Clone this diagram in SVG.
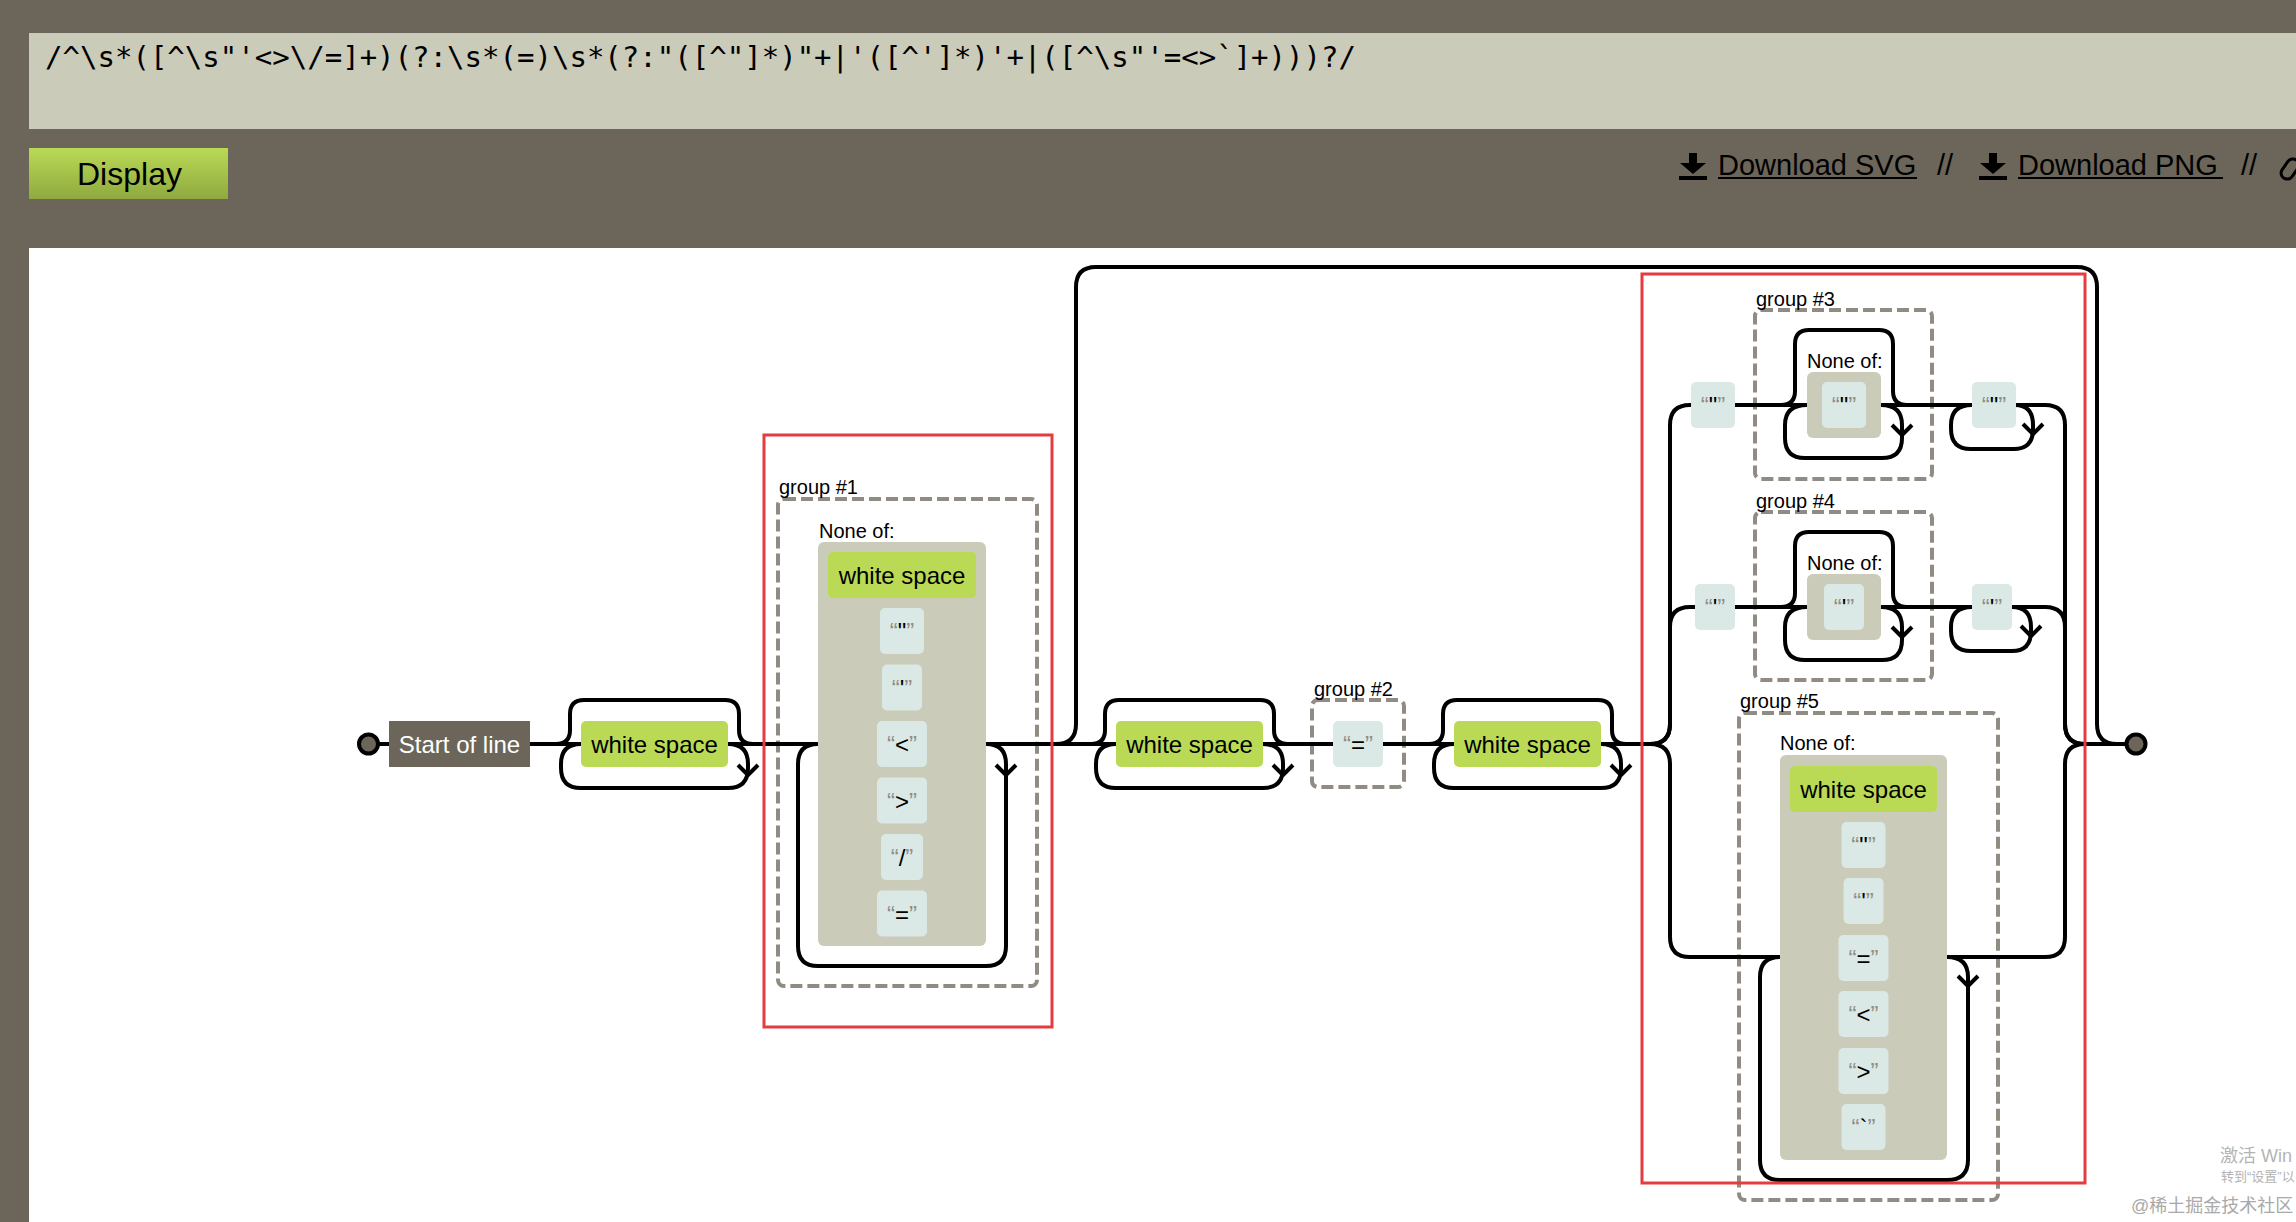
<svg xmlns="http://www.w3.org/2000/svg" width="2296" height="1222" viewBox="0 0 2296 1222">
<defs>
  <linearGradient id="btnGrad" x1="0" y1="0" x2="0" y2="1">
    <stop offset="0" stop-color="#bada55"/>
    <stop offset="1" stop-color="#8fa93f"/>
  </linearGradient>
  <path id="chev" d="M-10,-10 L0,0 L10,-10"/>
  <g id="dl">
    <rect x="-4" y="0" width="8" height="12" fill="#000"/>
    <path d="M-13,10 H13 L0,21 Z" fill="#000"/>
    <rect x="-14" y="23" width="28" height="4" fill="#000"/>
  </g>
</defs>
<style>
  .sans{font-family:"Liberation Sans",Arial,sans-serif}
  .rail{fill:none;stroke:#000;stroke-width:4;stroke-linejoin:round}
  .esc{fill:#bada55}
  .lit{fill:#dae9e5}
  .cls{fill:#cbcbba}
  .anc{fill:#6b6659}
  .sub{fill:none;stroke:#908c83;stroke-width:4;stroke-dasharray:12,5}
  .red{fill:none;stroke:#e43c3f;stroke-width:3}
  .t{font-family:"Liberation Sans",Arial,sans-serif;font-size:24px;fill:#000;text-anchor:middle}
  .tw{fill:#fff}
  .lbl{font-family:"Liberation Sans",Arial,sans-serif;font-size:20px;fill:#000}
  .q{fill:#908c83}
  .term{fill:#6b6659;stroke:#000;stroke-width:4}
  .link{font-family:"Liberation Sans",Arial,sans-serif;font-size:29px;fill:#000}
</style>

<!-- page chrome -->
<rect x="0" y="0" width="2296" height="1222" fill="#6b6659"/>
<rect x="29" y="33" width="2280" height="96" fill="#cbcbba"/>
<text x="45" y="67" font-family="DejaVu Sans Mono, Liberation Mono, monospace" font-size="29" textLength="1311" lengthAdjust="spacingAndGlyphs" fill="#000">/^\s*([^\s"'&lt;&gt;\/=]+)(?:\s*(=)\s*(?:"([^"]*)"+|'([^']*)'+|([^\s"'=&lt;&gt;`]+)))?/</text>
<g id="display-button">
  <rect x="29" y="148" width="199" height="51" fill="url(#btnGrad)"/>
  <text x="77" y="185" class="sans" font-size="32" fill="#000">Display</text>
</g>
<g id="links">
  <use href="#dl" x="1693" y="153"/>
  <text x="1718" y="175" class="link">Download SVG</text>
  <rect x="1718" y="177" width="199" height="2" fill="#000"/>
  <text x="1937" y="175" class="link">//</text>
  <use href="#dl" x="1993" y="153"/>
  <text x="2018" y="175" class="link">Download PNG</text>
  <rect x="2018" y="177" width="205" height="2" fill="#000"/>
  <text x="2241" y="175" class="link">//</text>
  <rect x="2284" y="158" width="12" height="22" rx="6" fill="none" stroke="#000" stroke-width="3" transform="rotate(35 2290 169)"/>
</g>
<rect x="29" y="248" width="2280" height="980" fill="#fff"/>

<!-- group frames -->
<g id="group1-frame">
  <rect class="sub" x="778" y="499" width="259" height="487" rx="6"/>
  <text class="lbl" x="779" y="494">group #1</text>
</g>
<g id="group2-frame">
  <rect class="sub" x="1312" y="700" width="92" height="87" rx="6"/>
  <text class="lbl" x="1314" y="696">group #2</text>
</g>
<g id="group3-frame">
  <rect class="sub" x="1755" y="310" width="177" height="169" rx="6"/>
  <text class="lbl" x="1756" y="306">group #3</text>
</g>
<g id="group4-frame">
  <rect class="sub" x="1755" y="512" width="177" height="168" rx="6"/>
  <text class="lbl" x="1756" y="508">group #4</text>
</g>
<g id="group5-frame">
  <rect class="sub" x="1739" y="713" width="259" height="487" rx="6"/>
  <text class="lbl" x="1740" y="708">group #5</text>
</g>

<!-- connectors -->
<g id="connectors" class="rail">
  <path d="M368,744 H1650"/>
  <path d="M2085,744 H2136"/>
  <!-- box1 skip + loop -->
  <path d="M556,744 q14,0 14,-14 v-16 q0,-14 14,-14 H725 q14,0 14,14 v16 q0,14 14,14"/>
  <path d="M581,744 q-20,0 -20,20 v4 q0,20 20,20 H728 q20,0 20,-20 v-4 q0,-20 -20,-20"/>
  <use href="#chev" x="748" y="775"/>
  <!-- group1 loop -->
  <path d="M818,744 q-20,0 -20,20 V946 q0,20 20,20 H986 q20,0 20,-20 V764 q0,-20 -20,-20"/>
  <use href="#chev" x="1006" y="775"/>
  <!-- big optional skip -->
  <path d="M1056,744 q20,0 20,-20 V287 q0,-20 20,-20 H2077 q20,0 20,20 V724 q0,20 20,20"/>
  <!-- box2 skip + loop -->
  <path d="M1091,744 q14,0 14,-14 v-16 q0,-14 14,-14 H1260 q14,0 14,14 v16 q0,14 14,14"/>
  <path d="M1116,744 q-20,0 -20,20 v4 q0,20 20,20 H1263 q20,0 20,-20 v-4 q0,-20 -20,-20"/>
  <use href="#chev" x="1283" y="775"/>
  <!-- box3 skip + loop -->
  <path d="M1429,744 q14,0 14,-14 v-16 q0,-14 14,-14 H1598 q14,0 14,14 v16 q0,14 14,14"/>
  <path d="M1454,744 q-20,0 -20,20 v4 q0,20 20,20 H1601 q20,0 20,-20 v-4 q0,-20 -20,-20"/>
  <use href="#chev" x="1621" y="775"/>
  <!-- alternation branches -->
  <path d="M1650,744 q20,0 20,-20 V425 q0,-20 20,-20 H2045 q20,0 20,20 V724 q0,20 20,20"/>
  <path d="M1650,744 q20,0 20,-20 V627 q0,-20 20,-20 H2045 q20,0 20,20 V724 q0,20 20,20"/>
  <path d="M1650,744 q20,0 20,20 V937 q0,20 20,20 H2045 q20,0 20,-20 V764 q0,-20 20,-20"/>
  <!-- group3 skip + loop -->
  <path d="M1781,405 q14,0 14,-14 V344 q0,-14 14,-14 H1879 q14,0 14,14 V391 q0,14 14,14"/>
  <path d="M1807,405 q-22,0 -22,20 V438 q0,20 20,20 H1882 q20,0 20,-20 V425 q0,-20 -21,-20"/>
  <use href="#chev" x="1902" y="435"/>
  <!-- branch1 closing quote loop -->
  <path d="M1972,405 q-21,0 -21,20 v4 q0,20 20,20 H2014 q19,0 19,-20 v-4 q0,-20 -18,-20"/>
  <use href="#chev" x="2033" y="434"/>
  <!-- group4 skip + loop -->
  <path d="M1781,607 q14,0 14,-14 V546 q0,-14 14,-14 H1879 q14,0 14,14 V593 q0,14 14,14"/>
  <path d="M1807,607 q-22,0 -22,20 V640 q0,20 20,20 H1882 q20,0 20,-20 V627 q0,-20 -21,-20"/>
  <use href="#chev" x="1902" y="637"/>
  <!-- branch2 closing quote loop -->
  <path d="M1972,607 q-21,0 -21,20 v4 q0,20 20,20 H2012 q19,0 19,-20 v-4 q0,-20 -19,-20"/>
  <use href="#chev" x="2031" y="636"/>
  <!-- group5 loop -->
  <path d="M1780,957 q-20,0 -20,20 V1160 q0,20 20,20 H1947 q21,0 21,-20 V977 q0,-20 -21,-20"/>
  <use href="#chev" x="1968" y="986"/>
</g>

<!-- nodes -->
<g id="start"><circle class="term" cx="368.5" cy="744" r="9.5"/></g>
<g id="end"><circle class="term" cx="2136" cy="744" r="9.5"/></g>

<g id="anchor-start">
  <rect class="anc" x="389" y="721" width="141" height="46"/>
  <text class="t tw" x="459.5" y="753">Start of line</text>
</g>
<g id="ws1">
  <rect class="esc" x="581" y="721" width="147" height="46" rx="5"/>
  <text class="t" x="654.5" y="753">white space</text>
</g>

<g id="class1">
  <text class="lbl" x="819" y="538">None of:</text>
  <rect class="cls" x="818" y="542" width="168" height="404" rx="6"/>
  <rect class="esc" x="828" y="552" width="148" height="46" rx="5"/>
  <text class="t" x="902" y="584">white space</text>
  <rect class="lit" x="880" y="608" width="44" height="46" rx="5"/>
  <text class="t" x="902" y="640"><tspan class="q">“</tspan>"<tspan class="q">”</tspan></text>
  <rect class="lit" x="882" y="664.5" width="40" height="46" rx="5"/>
  <text class="t" x="902" y="696.5"><tspan class="q">“</tspan>'<tspan class="q">”</tspan></text>
  <rect class="lit" x="877" y="721" width="50" height="46" rx="5"/>
  <text class="t" x="902" y="753"><tspan class="q">“</tspan>&lt;<tspan class="q">”</tspan></text>
  <rect class="lit" x="877" y="777.5" width="50" height="46" rx="5"/>
  <text class="t" x="902" y="809.5"><tspan class="q">“</tspan>&gt;<tspan class="q">”</tspan></text>
  <rect class="lit" x="881" y="834" width="42" height="46" rx="5"/>
  <text class="t" x="902" y="866"><tspan class="q">“</tspan>/<tspan class="q">”</tspan></text>
  <rect class="lit" x="877" y="890.5" width="50" height="46" rx="5"/>
  <text class="t" x="902" y="922.5"><tspan class="q">“</tspan>=<tspan class="q">”</tspan></text>
</g>

<g id="ws2">
  <rect class="esc" x="1116" y="721" width="147" height="46" rx="5"/>
  <text class="t" x="1189.5" y="753">white space</text>
</g>
<g id="lit-eq">
  <rect class="lit" x="1333" y="721" width="50" height="46" rx="5"/>
  <text class="t" x="1358" y="753"><tspan class="q">“</tspan>=<tspan class="q">”</tspan></text>
</g>
<g id="ws3">
  <rect class="esc" x="1454" y="721" width="147" height="46" rx="5"/>
  <text class="t" x="1527.5" y="753">white space</text>
</g>

<g id="dq-open">
  <rect class="lit" x="1691" y="382" width="44" height="46" rx="5"/>
  <text class="t" x="1713" y="414"><tspan class="q">“</tspan>"<tspan class="q">”</tspan></text>
</g>
<g id="class3">
  <text class="lbl" x="1807" y="368">None of:</text>
  <rect class="cls" x="1807" y="372" width="74" height="66" rx="6"/>
  <rect class="lit" x="1822" y="382" width="44" height="46" rx="5"/>
  <text class="t" x="1844" y="414"><tspan class="q">“</tspan>"<tspan class="q">”</tspan></text>
</g>
<g id="dq-close">
  <rect class="lit" x="1972" y="382" width="44" height="46" rx="5"/>
  <text class="t" x="1994" y="414"><tspan class="q">“</tspan>"<tspan class="q">”</tspan></text>
</g>

<g id="sq-open">
  <rect class="lit" x="1695" y="584" width="40" height="46" rx="5"/>
  <text class="t" x="1715" y="616"><tspan class="q">“</tspan>'<tspan class="q">”</tspan></text>
</g>
<g id="class4">
  <text class="lbl" x="1807" y="570">None of:</text>
  <rect class="cls" x="1807" y="574" width="74" height="66" rx="6"/>
  <rect class="lit" x="1824" y="584" width="40" height="46" rx="5"/>
  <text class="t" x="1844" y="616"><tspan class="q">“</tspan>'<tspan class="q">”</tspan></text>
</g>
<g id="sq-close">
  <rect class="lit" x="1972" y="584" width="40" height="46" rx="5"/>
  <text class="t" x="1992" y="616"><tspan class="q">“</tspan>'<tspan class="q">”</tspan></text>
</g>

<g id="class5">
  <text class="lbl" x="1780" y="750">None of:</text>
  <rect class="cls" x="1780" y="755" width="167" height="405" rx="6"/>
  <rect class="esc" x="1790" y="766" width="147" height="46" rx="5"/>
  <text class="t" x="1863.5" y="798">white space</text>
  <rect class="lit" x="1841.5" y="822" width="44" height="46" rx="5"/>
  <text class="t" x="1863.5" y="854"><tspan class="q">“</tspan>"<tspan class="q">”</tspan></text>
  <rect class="lit" x="1843.5" y="878" width="40" height="46" rx="5"/>
  <text class="t" x="1863.5" y="910"><tspan class="q">“</tspan>'<tspan class="q">”</tspan></text>
  <rect class="lit" x="1838.5" y="935" width="50" height="46" rx="5"/>
  <text class="t" x="1863.5" y="967"><tspan class="q">“</tspan>=<tspan class="q">”</tspan></text>
  <rect class="lit" x="1838.5" y="991" width="50" height="46" rx="5"/>
  <text class="t" x="1863.5" y="1023"><tspan class="q">“</tspan>&lt;<tspan class="q">”</tspan></text>
  <rect class="lit" x="1838.5" y="1048" width="50" height="46" rx="5"/>
  <text class="t" x="1863.5" y="1080"><tspan class="q">“</tspan>&gt;<tspan class="q">”</tspan></text>
  <rect class="lit" x="1841.5" y="1104" width="44" height="46" rx="5"/>
  <text class="t" x="1863.5" y="1136"><tspan class="q">“</tspan>`<tspan class="q">”</tspan></text>
</g>

<!-- annotation boxes -->
<g id="highlight1"><rect class="red" x="764" y="435" width="288" height="592"/></g>
<g id="highlight2"><rect class="red" x="1642" y="274" width="443" height="909"/></g>

<!-- watermarks (cut by the screenshot edge in the reference) -->
<g id="watermarks" font-family="Liberation Sans, Noto Sans CJK SC, sans-serif">
  <text x="2220" y="1162" font-size="18" fill="#b4b4b4">激活 Win</text>
  <text x="2221" y="1181" font-size="13" fill="#b4b4b4">转到“设置”以</text>
  <text x="2131" y="1212" font-size="18" fill="#a9a9a9">@稀土掘金技术社区</text>
</g>
</svg>
